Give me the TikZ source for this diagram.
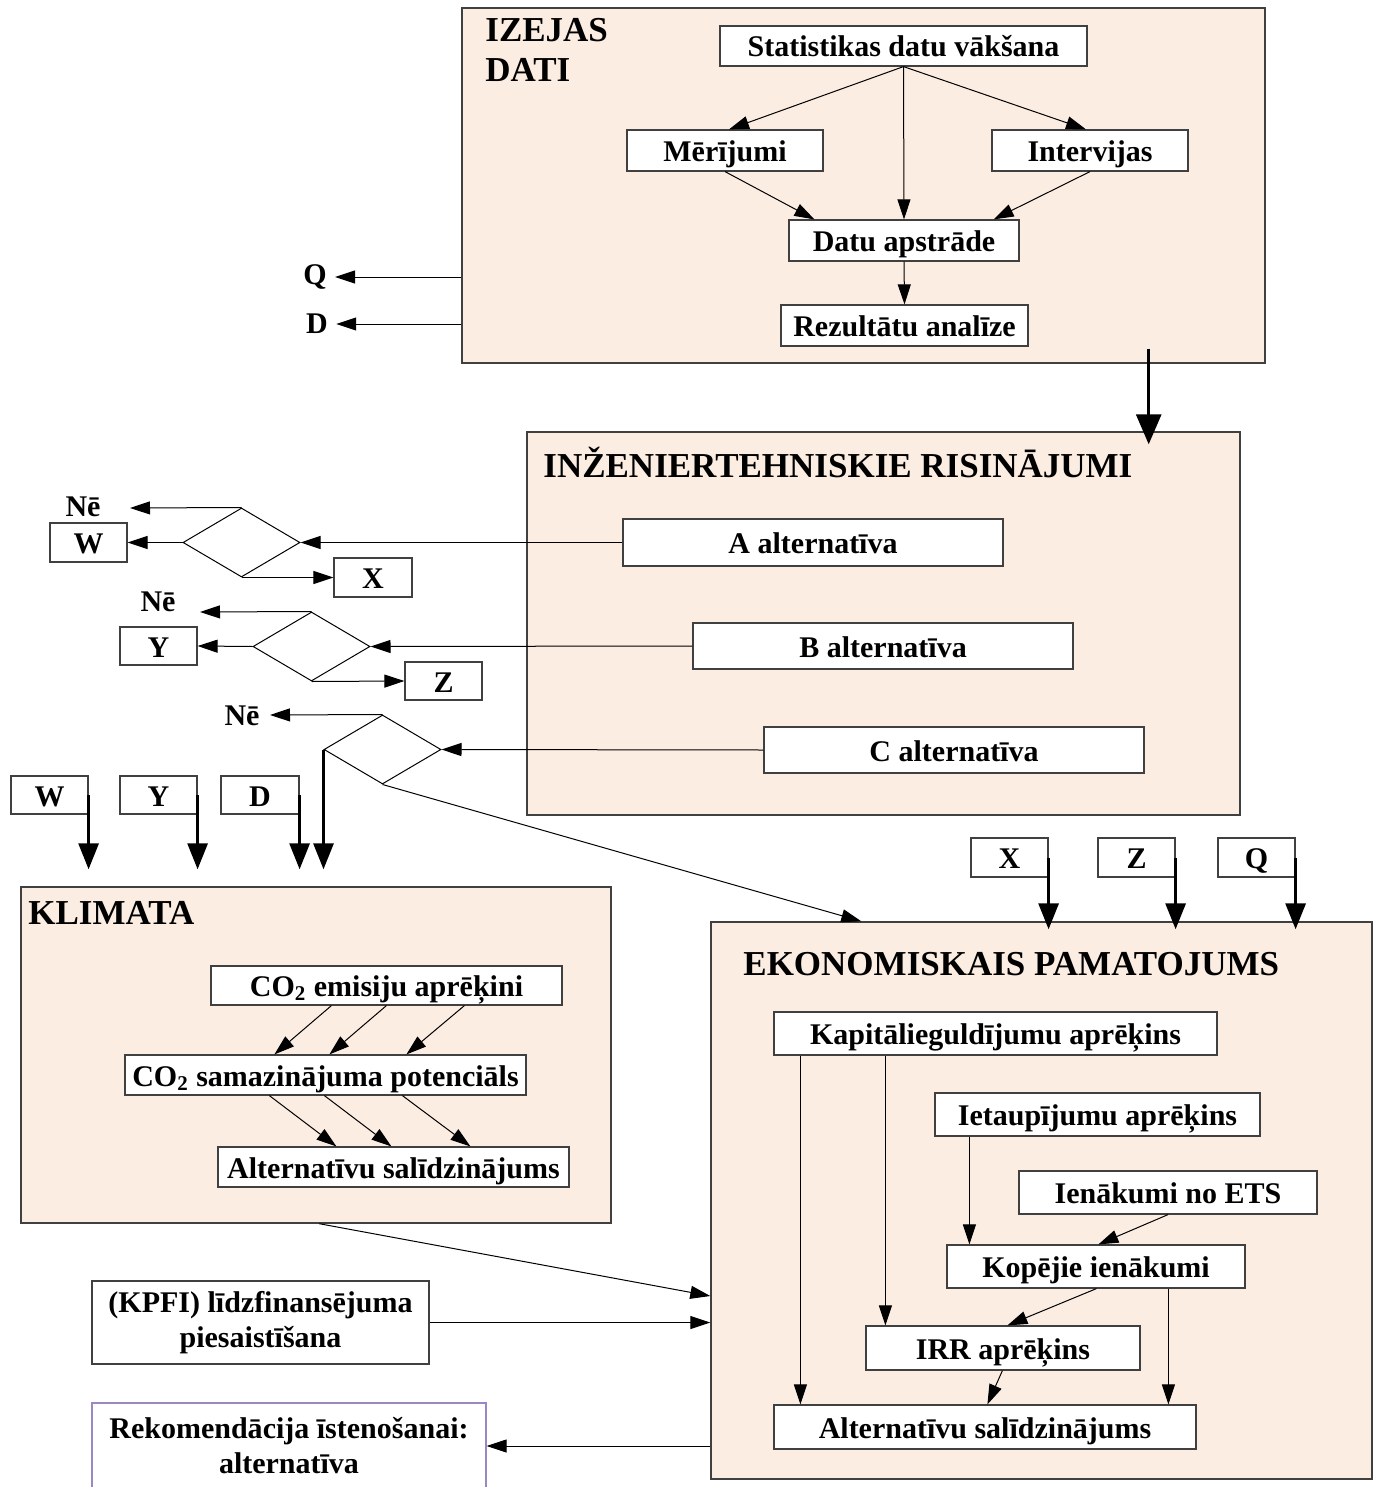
\documentclass[tikz,border=0pt]{standalone}
\usepackage{fontspec}
\setmainfont{Liberation Serif}
\usepackage{tikz}
\usetikzlibrary{arrows.meta, positioning, calc, shapes.geometric}
\definecolor{blockfill}{HTML}{FCEDE2}
\definecolor{blockline}{HTML}{404040}
\definecolor{noteline}{HTML}{9A88C4}
\tikzset{
  groupbox/.style = {draw=blockline, line width=0.7pt, fill=blockfill},
  itembox/.style  = {draw=blockline, line width=0.6pt, fill=white},
}

\begin{document}
\begin{tikzpicture}[
            x=0.5pt, y=-0.5pt,
            >={Triangle[length=10pt, width=6.5pt]},
            every node/.style={font=\fontsize{15}{17.5}\selectfont\bfseries},
            grp/.style 2 args ={groupbox, inner sep=0pt,
                    minimum width=#1*0.5pt, minimum height=#2*0.5pt},
            blk2/.style 2 args ={itembox, inner sep=0pt, align=center,
                    minimum width=#1*0.5pt, minimum height=#2*0.5pt},
            blk/.style 2 args ={blk2={#1}{#2}, text height=1.2em, text depth=0.1em},
            dec/.style   ={diamond, draw=black, line width=0.5pt, inner sep=0pt,
                    minimum width=58.5pt, minimum height=34.5pt},
            ttl/.style   ={font=\fontsize{17.5}{20}\selectfont\bfseries,
                    inner sep=0pt, anchor=west, align=left},
            lbl/.style   ={inner sep=0pt},
            fwd/.style   ={->, line width=0.5pt},
            thk/.style   ={-{Triangle[length=13pt, width=10pt]}, line width=1.5pt},
        ]
        \useasboundingbox (0,0) rectangle (1380,1487);

        %% --- Izejas dati ----------------------------------------------------
        \node[grp={803}{355}] (izejas) at (863.5,185.5) {};
        \node[ttl] (izejast) at (485,50) {IZEJAS\\DATI};
        \node[blk={367}{40}] (stat)  at (903.5,46)  {Statistikas datu vākšana};
        \node[blk={196}{41}] (mer)   at (725,150.5) {Mērījumi};
        \node[blk={196}{41}] (intv)  at (1090,150.5) {Intervijas};
        \node[blk={230}{41}] (apstr) at (904,240.5) {Datu apstrāde};
        \node[blk={247}{41}] (rez)   at (904.5,325.5) {Rezultātu analīze};

        \draw[fwd] (stat.south) -- ([xshift=2pt]mer.north);
        \draw[fwd] (stat.south) -- ([xshift=-2pt]intv.north);
        \draw[fwd] (stat.south) -- (apstr.north);
        \draw[fwd] (mer.south) -- ([xshift=13pt]apstr.north west);
        \draw[fwd] (intv.south) -- ([xshift=-13pt]apstr.north east);
        \draw[fwd] (apstr.south) -- (rez.north);

        \node[lbl] (q0) at (315,277) {Q};
        \node[lbl] (d0) at (317,324) {D};
        \draw[fwd] (q0.east -| izejas.west) -- ([xshift=4pt]q0.east);
        \draw[fwd] (d0.east -| izejas.west) -- ([xshift=4pt]d0.east);

        %% --- Inženiertehniskie risinājumi -----------------------------------
        \node[grp={713}{383}] (inz) at (883.5,623.5) {};
        \node[ttl] (inzt) at (543,462) {INŽENIERTEHNISKIE RISINĀJUMI};
        \node[blk={380}{47}] (altA) at (813,542.5) {A alternatīva};
        \node[blk={380}{46}] (altB) at (883,646)   {B alternatīva};
        \node[blk={380}{46}] (altC) at (954,750)   {C alternatīva};

        \draw[thk, -{Triangle[length=15pt, width=12.5pt]}]
            ([xshift=-58.5pt, yshift=7.5pt]izejas.south east)
            -- ([xshift=-46pt, yshift=-6.5pt]inz.north east);

        %% --- Lēmumi (rombi) -------------------------------------------------
        \node[dec] (d1) at (241.5,542.5) {};
        \node[dec] (d2) at (311.5,646.5) {};
        \node[dec] (d3) at (382.5,749.5) {};

        \node[blk={77}{39}] (w1) at (88.5,542.5) {W};
        \node[blk={78}{39}] (x1) at (373,577.5)  {X};
        \node[blk={77}{38}] (y1) at (158.5,646)  {Y};
        \node[blk={77}{38}] (z1) at (443.5,681)  {Z};

        \node[lbl] (ne1) at (83,507)  {Nē};
        \node[lbl] (ne2) at (158,602) {Nē};
        \node[lbl] (ne3) at (242,716) {Nē};
        \coordinate (ne1a) at (130,508);
        \coordinate (ne2a) at (200,612);
        \coordinate (ne3a) at (270,715);

        \draw[fwd] (altA.west) -- (d1.east);
        \draw[fwd] (altB.west) -- (d2.east);
        \draw[fwd] (altC.west) -- (d3.east);
        \draw[fwd] (d1.north) -- (ne1a);
        \draw[fwd] (d2.north) -- (ne2a);
        \draw[fwd] (d3.north) -- (ne3a);
        \draw[fwd] (d1.west) -- (w1.east);
        \draw[fwd] (d2.west) -- (y1.east);
        \draw[fwd] (d1.south) -- (x1.west);
        \draw[fwd] (d2.south) -- (z1.west);

        %% --- Klimata --------------------------------------------------------
        \node[grp={590}{336}] (klim) at (316,1055) {};
        \node[ttl] (klimt) at (28,913) {KLIMATA};
        \node[blk={351}{39}] (co2e) at (386.5,985.5) {CO\textsubscript{2} emisiju aprēķini};
        \node[blk={401}{40}] (co2s) at (325.5,1075)  {CO\textsubscript{2} samazinājuma potenciāls};
        \node[blk={351}{40}] (altK) at (393.5,1167)  {Alternatīvu salīdzinājums};

        \foreach \a/\b in {60.5/75, 88/102.5, 127/141}
            \draw[fwd] ([xshift=\a pt]co2e.south west) -- ([xshift=\b pt]co2s.north west);
        \foreach \a/\b in {72.5/59.5, 100/87, 139/126.5}
            \draw[fwd] ([xshift=\a pt]co2s.south west) -- ([xshift=\b pt]altK.north west);

        \node[blk={77}{38}] (w2) at (49.5,795) {W};
        \node[blk={77}{38}] (y2) at (158.5,795) {Y};
        \node[blk={78}{38}] (d2b) at (260,795) {D};
        \foreach \n in {w2, y2, d2b}
            \draw[thk] (\n.east) -- ([yshift=8.5pt]\n.east |- klim.north);
        \draw[thk] (d3.west) -- ([yshift=8.5pt]d3.west |- klim.north);

        %% --- Ekonomiskais pamatojums ----------------------------------------
        \node[grp={661}{557}] (ekon) at (1041.5,1200.5) {};
        \node[ttl] (ekont) at (743,964) {EKONOMISKAIS PAMATOJUMS};
        \node[blk={443}{43}] (kap)  at (995.5,1033.5) {Kapitālieguldījumu aprēķins};
        \node[blk={325}{43}] (iet)  at (1097.5,1114.5) {Ietaupījumu aprēķins};
        \node[blk={298}{43}] (ien)  at (1168,1192.5)  {Ienākumi no ETS};
        \node[blk={298}{43}] (kop)  at (1096,1266.5)  {Kopējie ienākumi};
        \node[blk={274}{44}] (irr)  at (1003,1348)    {IRR aprēķins};
        \node[blk={422}{44}] (altE) at (985,1427)     {Alternatīvu salīdzinājums};

        \draw[fwd] ([xshift=13.5pt]kap.south west) -- ([xshift=13.5pt]altE.north west);
        \draw[fwd] ([xshift=56pt]kap.south west) -- ([xshift=10pt]irr.north west);
        \draw[fwd] ([xshift=17.5pt]iet.south west) -- ([xshift=11.5pt]kop.north west);
        \draw[fwd] (ien.south) -- ([xshift=76pt]kop.north west);
        \draw[fwd] ([xshift=75pt]kop.south west) -- ([xshift=71pt]irr.north west);
        \draw[fwd] ([xshift=111pt]kop.south west) -- ([xshift=197.5pt]altE.north west);
        \draw[fwd] ([xshift=68.5pt]irr.south west) -- ([xshift=107pt]altE.north west);

        \node[blk={77}{39}] (x2) at (1009.5,857.5) {X};
        \node[blk={77}{39}] (z2) at (1136.5,857.5) {Z};
        \node[blk={77}{39}] (q2) at (1256.5,857.5) {Q};
        \foreach \n in {x2, z2, q2}
            \draw[thk] (\n.east) -- ([yshift=-4pt]\n.east |- ekon.north);

        \draw[fwd] (d3.south) -- ([xshift=75.5pt]ekon.north west);
        \draw[fwd] ([xshift=149.5pt]klim.south west) -- ([yshift=-47.75pt]ekon.west);

        %% --- Finansējums un rekomendācija -----------------------------------
        \node[blk2={337}{83}] (kpfi) at (260.5,1322.5)
            {(KPFI) līdzfinansējuma\\piesaistīšana};
        \node[blk2={394}{86}, draw=noteline] (rek) at (289,1446)
            {Rekomendācija īstenošanai:\\alternatīva};
        \draw[fwd] (kpfi.east) -- (kpfi.east -| ekon.west);
        \draw[fwd] (rek.east -| ekon.west) -- (rek.east);

    \end{tikzpicture}
\end{document}
